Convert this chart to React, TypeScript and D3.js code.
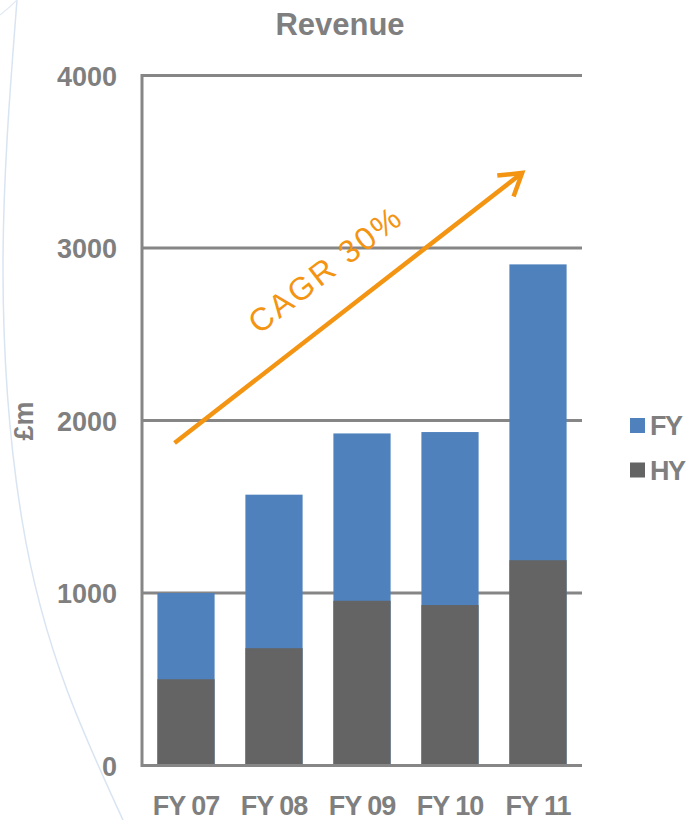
import React from "react";
import * as d3 from "d3";

// Revenue by financial year, £m
const categories = ["FY 07", "FY 08", "FY 09", "FY 10", "FY 11"];
const hyValues = [500, 680, 955, 930, 1190];
const fyValues = [1000, 1570, 1925, 1933, 2905];
const yTicks = [0, 1000, 2000, 3000, 4000];
const legendItems = [
  { key: "FY", color: "#4f81bd" },
  { key: "HY", color: "#646464" },
];
const growthLabel = "CAGR 30%";
// trend arrow endpoints in data terms: [category index offset, value]
const arrowFrom = [-0.13, 1870];
const arrowTo = [3.82, 3435];

const W = 686;
const H = 820;
const TEXT = "#7f7f7f";
const GRID = "#868686";
const ORANGE = "#f39412";
const FONT = "'Liberation Sans', Arial, sans-serif";

export default function App() {
  const x = d3
    .scaleBand<string>()
    .domain(categories)
    .range([142, 582])
    .paddingInner(0.35)
    .paddingOuter(0.175);
  const y = d3.scaleLinear().domain([0, 4000]).range([765.5, 75.5]);

  const step = x.step();
  const cx = (i: number) => (x(categories[0]) as number) + x.bandwidth() / 2 + i * step;

  const ax1 = cx(arrowFrom[0]);
  const ay1 = y(arrowFrom[1]);
  const ax2 = cx(arrowTo[0]);
  const ay2 = y(arrowTo[1]);
  const ang = Math.atan2(ay2 - ay1, ax2 - ax1);
  const headLen = 25;
  const headSpread = (32 * Math.PI) / 180;
  const h1 = [ax2 - headLen * Math.cos(ang - headSpread), ay2 - headLen * Math.sin(ang - headSpread)];
  const h2 = [ax2 - headLen * Math.cos(ang + headSpread), ay2 - headLen * Math.sin(ang + headSpread)];
  const angDeg = (ang * 180) / Math.PI;

  // faint decorative arc along the left edge of the slide
  const arcPts: [number, number][] = [
    [17, 0], [3, 270], [22, 520], [67, 690], [123, 820],
  ];
  const arcPath = d3.line().curve(d3.curveNatural)(arcPts) || "";

  return (
    <svg
      width={W}
      height={H}
      style={{ position: "absolute", left: 0, top: 0, background: "#fff" }}
      fontFamily={FONT}
    >
      <path d={arcPath} fill="none" stroke="#d9e4f2" strokeWidth={1.5} />
      <path d="M0,15 Q9,8 17,0" fill="none" stroke="#e3eaf3" strokeWidth={1.2} />

      <text x={340} y={35} textAnchor="middle" fontSize={31} fontWeight="bold" fill={TEXT}>
        Revenue
      </text>

      {/* gridlines */}
      {yTicks.map((t) => (
        <line key={t} x1={142} x2={582} y1={y(t)} y2={y(t)} stroke={GRID} strokeWidth={3} />
      ))}
      <line x1={142} x2={142} y1={y(4000) - 1.5} y2={y(0) + 1.5} stroke={GRID} strokeWidth={3} />

      {/* y tick labels */}
      {yTicks.map((t) => (
        <text key={t} x={117} y={y(t) + 10} textAnchor="end" fontSize={27} fontWeight="bold" fill={TEXT}>
          {t}
        </text>
      ))}
      <text
        transform="translate(33,421) rotate(-90)"
        textAnchor="middle"
        fontSize={27}
        fontWeight="bold"
        fill={TEXT}
      >
        £m
      </text>

      {/* bars: full year behind, half year in front */}
      {categories.map((c, i) => (
        <g key={c}>
          <rect
            x={x(c)}
            width={x.bandwidth()}
            y={y(fyValues[i])}
            height={y(0) - y(fyValues[i]) - 1.5}
            fill={legendItems[0].color}
          />
          <rect
            x={x(c)}
            width={x.bandwidth()}
            y={y(hyValues[i])}
            height={y(0) - y(hyValues[i]) - 1.5}
            fill={legendItems[1].color}
          />
        </g>
      ))}

      {/* x labels */}
      {categories.map((c) => (
        <text
          key={c}
          x={(x(c) as number) + x.bandwidth() / 2}
          y={815}
          textAnchor="middle"
          fontSize={27}
          fontWeight="bold"
          letterSpacing={-1}
          fill={TEXT}
        >
          {c}
        </text>
      ))}

      {/* growth arrow */}
      <line x1={ax1} y1={ay1} x2={ax2} y2={ay2} stroke={ORANGE} strokeWidth={4.5} />
      <polyline
        points={`${h1[0]},${h1[1]} ${ax2},${ay2} ${h2[0]},${h2[1]}`}
        fill="none"
        stroke={ORANGE}
        strokeWidth={4.5}
        strokeLinecap="butt"
        strokeLinejoin="miter"
      />
      <text
        transform={`translate(259,335) rotate(${angDeg})`}
        fontSize={32}
        letterSpacing={2.5}
        fill={ORANGE}
      >
        {growthLabel}
      </text>

      {/* legend */}
      {legendItems.map((l, i) => (
        <g key={l.key} transform={`translate(630,${418 + i * 44.5})`}>
          <rect width={15} height={15} fill={l.color} />
          <text x={20} y={17} fontSize={27} fontWeight="bold" letterSpacing={-1.5} fill={TEXT}>
            {l.key}
          </text>
        </g>
      ))}
    </svg>
  );
}
